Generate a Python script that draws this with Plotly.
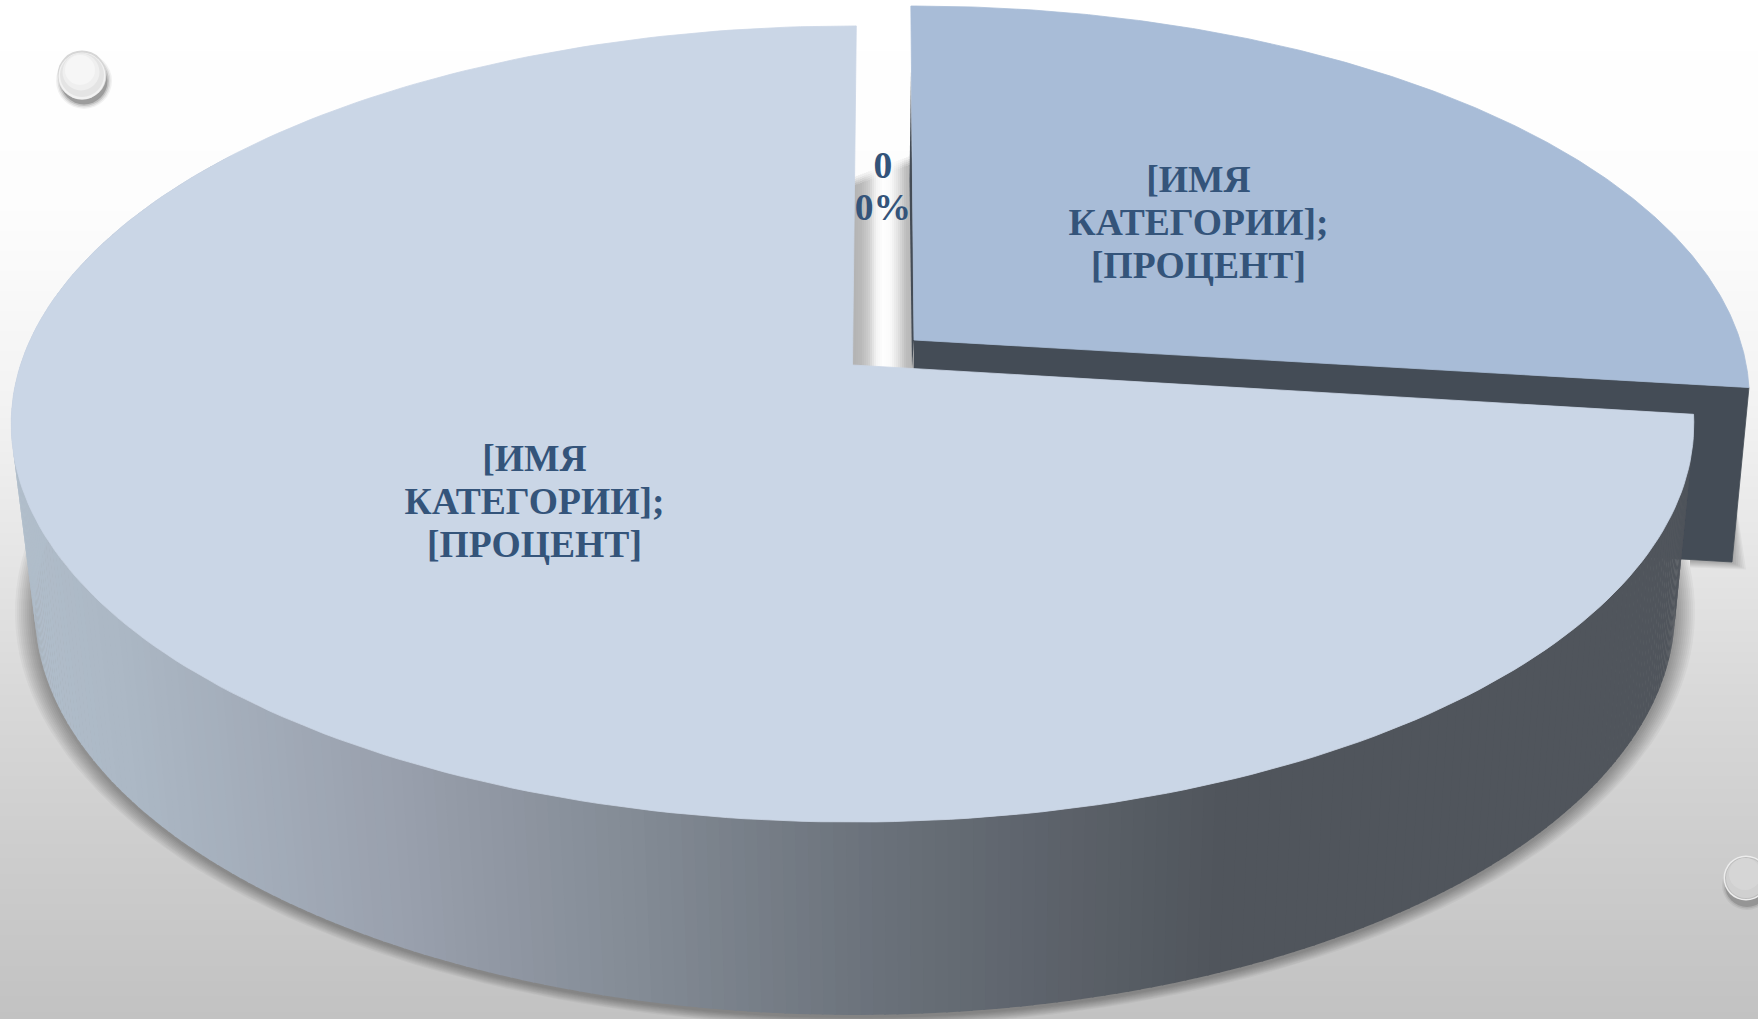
import numpy as np
import plotly.graph_objects as go

# ---------- data ----------
categories = ["main", "second", "zero"]
values = [73.1, 26.9, 0.0]
label_lines_main = ["[ИМЯ", "КАТЕГОРИИ];", "[ПРОЦЕНТ]"]
label_lines_second = ["[ИМЯ", "КАТЕГОРИИ];", "[ПРОЦЕНТ]"]
label_lines_zero = ["0", "0%"]

# ---------- style / view ----------
W, H = 1758, 1019
K = 0.1482
TOP = dict(cx=852.5, cy=365, a=832, b=389.3)
BOT = dict(cx=855, cy=550, a=811, b=396)
EXPLODE_TOP = dict(cx=914, cy=340, a=832.7 * 0.992, b=389.3 * 0.985)
EDGE_DEG = 0.3          # top boundary of the pie
EXPLODE_TILT = -0.25
C_MAIN, C_SECOND, C_INNER, TXT = "#cad6e6", "#a8bcd7", "#444c56", "#34547a"
FONT = "Liberation Serif"

fig = go.Figure()


def proj(theta_deg, g):
    t = np.radians(theta_deg)
    u, v = np.sin(t), np.cos(t)
    w = 1 + K * v
    return g["cx"] + g["a"] * u / w, g["cy"] - g["b"] * v / w


def poly(xs, ys, color, line=None):
    fig.add_trace(go.Scatter(
        x=list(xs), y=list(ys), mode="lines", fill="toself", fillcolor=color,
        line=dict(color=line or "rgba(0,0,0,0)", width=0.8 if line else 0),
        hoverinfo="skip", showlegend=False))


def sector(start, end, g, color):
    th = np.linspace(start, end, 240)
    x, y = proj(th, g)
    poly([g["cx"], *x, g["cx"]], [g["cy"], *y, g["cy"]], color, color)


def lerp_stops(pos, stops):
    xs = [s[0] for s in stops]
    cols = np.array([s[1] for s in stops], float)
    return [float(np.interp(pos, xs, cols[:, i])) for i in range(cols.shape[1])]


# ---------- background gradient ----------
rows = np.arange(0, H + 1, 3)
bg_y = [0, 200, 400, 550, 700, 850, 1019]
bg_g = [255, 253, 243, 230, 216, 205, 194]
fig.add_trace(go.Heatmap(
    x=[0, W], y=rows, z=[[g, g] for g in np.interp(rows, bg_y, bg_g)],
    zmin=0, zmax=255, colorscale=[[0, "#000000"], [1, "#ffffff"]],
    showscale=False, hoverinfo="skip", zsmooth="best"))

total = sum(values)
sweep_second = 360 * values[1] / total + 0.4
sweep_main = 360 * values[0] / total
main_start = EDGE_DEG + 360 - sweep_main

# ---------- soft shadows ----------
th_all = np.linspace(0, 360, 200)
for d in range(2, 22, 2):
    sx = 855 + (820 + d) * np.sin(np.radians(th_all))
    sy = 612 + (405 + d * 0.45) * -np.cos(np.radians(th_all))
    poly(sx, sy, "rgba(0,0,0,0.036)")
for d in range(1, 15, 2):
    poly([1725, 1736, 1733 + d, 1690, 1690],
         [500, 515 - d, 563 + d * 0.5, 561 + d * 0.5, 500], "rgba(0,0,0,0.04)")

# ---------- inner wall of the empty slice ----------
stripe_left, stripe_right = 850, 914
stripe_t = [0, 0.12, 0.25, 0.38, 0.5, 0.62, 0.75, 0.88, 1]
stripe_g = [180, 186, 205, 245, 255, 250, 225, 190, 182]
xs_edges = np.arange(stripe_left, stripe_right, 2)
for xa in xs_edges:
    t = (xa - 853) / 59
    g = int(np.interp(t, stripe_t, stripe_g))
    top_y = 179 - 22 * np.clip(t, 0, 1)
    poly([xa, xa + 2.4, xa + 2.4, xa], [top_y + 6, top_y + 6, 372, 372], f"rgb({g},{g},{g})")
    for k, off in enumerate([4, 2, 0, -2]):
        g2 = int(g + (252 - g) * (k + 1) / 5)
        poly([xa, xa + 2.4, xa + 2.4, xa], [top_y + off, top_y + off, top_y + off + 2.4, top_y + off + 2.4],
             f"rgb({g2},{g2},{g2})")

# ---------- exploded slice: inner wall + top ----------
end2 = EXPLODE_TILT + sweep_second
ex, ey = proj(end2, EXPLODE_TOP)
poly([EXPLODE_TOP["cx"], ex, 1732, 1681, 912],
     [EXPLODE_TOP["cy"], ey, 562, 559, 520], C_INNER, C_INNER)
poly([911, 909.5, 912, 914], [70, 180, 368, 340], C_INNER)
sector(EXPLODE_TILT, end2, EXPLODE_TOP, C_SECOND)

# ---------- main slice: outer wall with gradient ----------
wall_stops = [(0, (178, 191, 204)), (130, (172, 184, 197)), (400, (154, 161, 174)),
              (650, (131, 139, 149)), (900, (105, 112, 121)), (1230, (80, 85, 92)),
              (W, (80, 85, 92))]
step = 0.75
for th in np.arange(main_start, 305, step):
    tx0, ty0 = proj(th, TOP)
    tx1, ty1 = proj(th + step * 1.15, TOP)
    bx0, by0 = proj(th, BOT)
    bx1, by1 = proj(th + step * 1.15, BOT)
    r, g, b = lerp_stops((tx0 + bx0) / 2, wall_stops)
    col = f"rgb({int(r)},{int(g)},{int(b)})"
    poly([tx0, tx1, bx1, bx0, tx0], [ty0, ty1, by1, by0, ty0], col)

# ---------- main slice: top ----------
sector(main_start, main_start + sweep_main, TOP, C_MAIN)


# ---------- labels ----------
def text_lines(lines, x, ys, size):
    fig.add_trace(go.Scatter(
        x=[x] * len(lines), y=ys, mode="text", text=lines, textposition="middle center",
        textfont=dict(family=FONT, size=size, color=TXT, weight="bold"),
        hoverinfo="skip", showlegend=False))


text_lines(label_lines_main, 534.5, [461.5, 504.5, 547.5], 37.6)
text_lines(label_lines_second, 1198.5, [182.5, 225.5, 268.5], 37.6)
text_lines(label_lines_zero, 883, [168.5, 210.5], 37.6)


# ---------- decorative beads ----------
def bead(x, y, size, color):
    fig.add_trace(go.Scatter(
        x=[x], y=[y], mode="markers", cliponaxis=True,
        marker=dict(size=size, color=color, line=dict(width=0)),
        hoverinfo="skip", showlegend=False))


for s, a in [(56, 0.05), (53, 0.08), (50, 0.12), (47, 0.2)]:
    bead(84, 81, s, f"rgba(0,0,0,{a})")
bead(82, 75, 49, "#d6d6d6")
bead(82, 76, 47, "#f2f2f2")
bead(82, 75, 44, "#e4e4e4")
bead(81, 72, 37, "#efefef")
bead(80, 70, 30, "#f6f6f6")

for s, a in [(50, 0.05), (47, 0.08), (44, 0.15)]:
    bead(1747, 885, s, f"rgba(0,0,0,{a})")
bead(1746, 878, 45, "#ececec")
bead(1746, 878, 42, "#bdbdbd")
bead(1746, 878, 40, "#d0d0d0")
bead(1745, 874, 32, "#d6d6d6")

fig.update_layout(
    width=W, height=H, margin=dict(l=0, r=0, t=0, b=0), showlegend=False,
    paper_bgcolor="#ffffff", plot_bgcolor="rgba(0,0,0,0)",
    xaxis=dict(range=[0, W], visible=False, fixedrange=True),
    yaxis=dict(range=[H, 0], visible=False, fixedrange=True),
)
fig.write_html("out.html", config={"displayModeBar": False},
               post_script="document.body.style.margin='0';document.body.style.overflow='hidden';")
